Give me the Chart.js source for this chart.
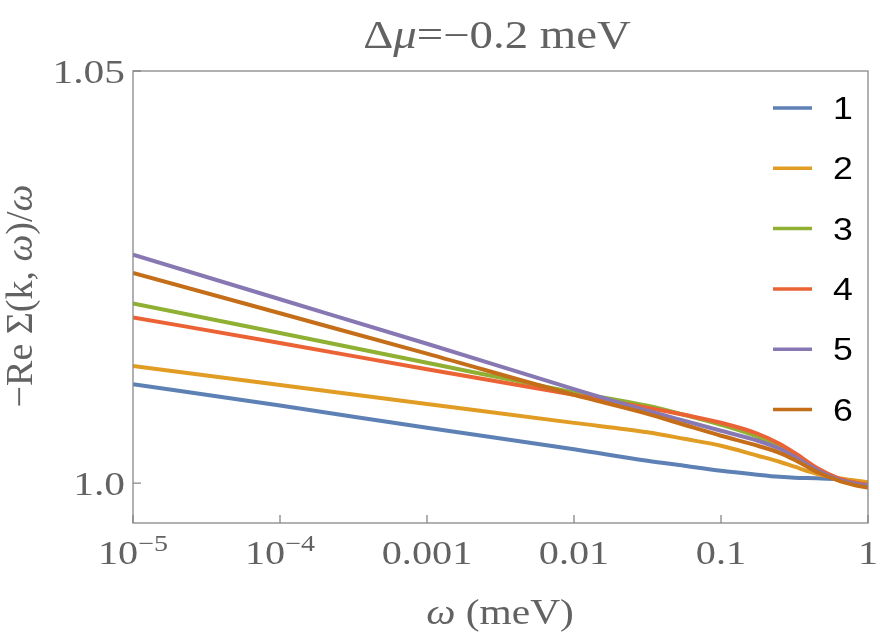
<!DOCTYPE html>
<html lang="en">
<head>
  <meta charset="UTF-8">
  <title>Δμ=−0.2 meV</title>
  <script src="https://cdn.jsdelivr.net/npm/chart.js"></script>
  <style>
    body { margin: 0; background: #fff; }
  </style>
</head>
<body>
  <canvas id="chart" width="880" height="638"></canvas>

  <script>
    // omega in meV (log axis)
    const omega = [1e-5, 1e-4, 1e-3, 1e-2, 0.0316, 0.056, 0.1, 0.178, 0.25, 0.316, 0.447, 0.631, 0.794, 1];

    // -Re Sigma(k, w)/w, one array per curve
    const curve1 = [1.0120, 1.0094, 1.0067, 1.0041, 1.0027, 1.0021, 1.00149, 1.00101, 1.00076, 1.00064, 1.00058, 1.00046, 1.00022, 0.99985];
    const curve2 = [1.0142, 1.0119, 1.0096, 1.0073, 1.00616, 1.00537, 1.00452, 1.00331, 1.00258, 1.00198, 1.00113, 1.00058, 1.00034, 1.0001];
    const curve3 = [1.0218, 1.0182, 1.0146, 1.0110, 1.00937, 1.00828, 1.00707, 1.00561, 1.0044, 1.00343, 1.00173, 1.00052, 1.00004, 0.99973];
    const curve4 = [1.0201, 1.0170, 1.0138, 1.0107, 1.00913, 1.00828, 1.00731, 1.00598, 1.00477, 1.00367, 1.00186, 1.00058, 1.0001, 0.99979];
    const curve5 = [1.0277, 1.0223, 1.0169, 1.0114, 1.00877, 1.00756, 1.00634, 1.00513, 1.00416, 1.00319, 1.00161, 1.0004, 0.99998, 0.99967];
    const curve6 = [1.0255, 1.0206, 1.0157, 1.0107, 1.0084, 1.00707, 1.00574, 1.00452, 1.00367, 1.00283, 1.00137, 1.00028, 0.99979, 0.99943];

    const curveLabels = ['1', '2', '3', '4', '5', '6'];
    const curveColors = ['#5e81b5', '#e19c24', '#8fb032', '#eb6235', '#8778b3', '#c56e1a'];

    const xTickValues = [1e-5, 1e-4, 1e-3, 1e-2, 0.1, 1];
    const xTickLabels = ['10^-5', '10^-4', '0.001', '0.01', '0.1', '1'];
    const yTickValues = [1.0, 1.05];
    const yTickLabels = ['1.0', '1.05'];

    const textGray = '#626262';
    const serif = '"Liberation Serif", "DejaVu Serif", serif';

    // draw a list of [text, style] pieces centred on the current origin
    function pieces(ctx, parts, size, sx) {
      let w = 0;
      parts.forEach(p => {
        ctx.font = (p[1] || '') + ' ' + size + 'px ' + serif;
        w += ctx.measureText(p[0]).width * sx;
      });
      let cx = -w / 2;
      parts.forEach(p => {
        ctx.font = (p[1] || '') + ' ' + size + 'px ' + serif;
        ctx.save();
        ctx.translate(cx, 0);
        ctx.scale(sx, 1);
        ctx.fillText(p[0], 0, 0);
        ctx.restore();
        cx += ctx.measureText(p[0]).width * sx;
      });
    }

    const decor = {
      id: 'decor',
      afterDraw(chart) {
        const { ctx, chartArea: a, scales: { x, y } } = chart;
        ctx.save();

        // frame
        ctx.strokeStyle = '#888';
        ctx.lineWidth = 1.3;
        ctx.strokeRect(a.left, a.top, a.right - a.left, a.bottom - a.top);

        // inward ticks
        ctx.beginPath();
        xTickValues.forEach(v => {
          const px = x.getPixelForValue(v);
          ctx.moveTo(px, a.bottom);
          ctx.lineTo(px, a.bottom - 8);
        });
        yTickValues.forEach(v => {
          const py = y.getPixelForValue(v);
          ctx.moveTo(a.left, py);
          ctx.lineTo(a.left + 8, py);
        });
        ctx.stroke();

        ctx.fillStyle = textGray;
        ctx.textBaseline = 'alphabetic';
        ctx.textAlign = 'left';

        // x tick labels, with superscript exponents
        xTickValues.forEach((v, i) => {
          const px = x.getPixelForValue(v);
          const [base, exp] = xTickLabels[i].split('^');
          ctx.save();
          ctx.translate(px, 564);
          if (exp) {
            const e = exp.replace('-', '−');
            ctx.font = '33px ' + serif;
            const bw = ctx.measureText(base).width * 1.22;
            ctx.font = '23px ' + serif;
            const ew = ctx.measureText(e).width * 1.22;
            ctx.save();
            ctx.translate(-(bw + ew) / 2, 0);
            ctx.scale(1.22, 1);
            ctx.font = '33px ' + serif;
            ctx.fillText(base, 0, 0);
            ctx.restore();
            ctx.save();
            ctx.translate(-(bw + ew) / 2 + bw, -13);
            ctx.scale(1.22, 1);
            ctx.font = '23px ' + serif;
            ctx.fillText(e, 0, 0);
            ctx.restore();
          } else {
            pieces(ctx, [[base]], 33, 1.22);
          }
          ctx.restore();
        });

        // y tick labels
        yTickValues.forEach((v, i) => {
          const py = y.getPixelForValue(v);
          ctx.save();
          ctx.font = '34px ' + serif;
          const w = ctx.measureText(yTickLabels[i]).width * 1.22;
          ctx.translate(125 - w / 2, py + 12);
          pieces(ctx, [[yTickLabels[i]]], 34, 1.22);
          ctx.restore();
        });

        // title
        ctx.save();
        ctx.translate(497, 48);
        pieces(ctx, [['Δ'], ['μ', 'italic'], ['=−0.2 meV']], 39, 1.2);
        ctx.restore();

        // x axis title
        ctx.save();
        ctx.translate(500, 624);
        pieces(ctx, [['ω', 'italic'], [' (meV)']], 36, 1.15);
        ctx.restore();

        // y axis title
        ctx.save();
        ctx.translate(32, 296);
        ctx.rotate(-Math.PI / 2);
        pieces(ctx, [['−Re Σ(k, '], ['ω', 'italic'], [')/'], ['ω', 'italic']], 38, 1.0);
        ctx.restore();

        // legend
        chart.data.datasets.forEach((ds, i) => {
          const ly = 108 + i * 60.3;
          ctx.strokeStyle = ds.borderColor;
          ctx.lineWidth = 3.5;
          ctx.beginPath();
          ctx.moveTo(773, ly);
          ctx.lineTo(812, ly);
          ctx.stroke();
          ctx.save();
          ctx.fillStyle = '#000';
          ctx.font = '31px "Liberation Sans", Arial, sans-serif';
          ctx.translate(833, ly + 11);
          ctx.scale(1.15, 1);
          ctx.fillText(ds.label, 0, 0);
          ctx.restore();
        });

        ctx.restore();
      }
    };

    const curves = [curve1, curve2, curve3, curve4, curve5, curve6];
    const datasets = curves.map((c, i) => ({
      label: curveLabels[i],
      data: omega.map((w, j) => ({ x: w, y: c[j] })),
      borderColor: curveColors[i],
      backgroundColor: curveColors[i],
      order: curves.length - i
    }));

    new Chart(document.getElementById('chart').getContext('2d'), {
      type: 'line',
      data: { datasets: datasets },
      options: {
        responsive: false,
        animation: false,
        layout: { padding: { left: 133, right: 12, top: 71, bottom: 115 } },
        elements: {
          point: { radius: 0 },
          line: { borderWidth: 4, cubicInterpolationMode: 'monotone' }
        },
        plugins: {
          legend: { display: false },
          title: { display: false },
          tooltip: { enabled: false }
        },
        scales: {
          x: { type: 'logarithmic', min: 1e-5, max: 1, display: false },
          y: { type: 'linear', min: 0.99515, max: 1.05, display: false }
        }
      },
      plugins: [decor]
    });
  </script>
</body>
</html>
